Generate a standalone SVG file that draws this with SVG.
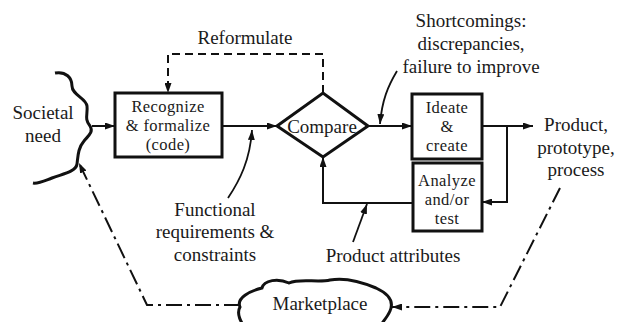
<svg xmlns="http://www.w3.org/2000/svg" width="622" height="322" viewBox="0 0 622 322">
  <defs>
    <marker id="arrow" viewBox="0 0 10 7" refX="10" refY="3.5" markerWidth="10" markerHeight="7" markerUnits="userSpaceOnUse" orient="auto">
      <path d="M0,0 L10,3.5 L0,7 z" fill="#111"/>
    </marker>
    <style>
      text { font-family: "Liberation Serif", "Times New Roman", serif; font-size: 19px; fill: #1a1a1a; text-anchor: middle; }
      text.in { font-size: 16.5px; letter-spacing: 0.4px; }
      .box { fill: none; stroke: #111; stroke-width: 3; }
      .line { fill: none; stroke: #111; stroke-width: 2; }
      .thin { fill: none; stroke: #111; stroke-width: 1.8; }
      .dashed { fill: none; stroke: #111; stroke-width: 2; stroke-dasharray: 8 5; }
      .dashdot { fill: none; stroke: #111; stroke-width: 2; stroke-dasharray: 16 5 3 5; }
    </style>
  </defs>
  <rect width="622" height="322" fill="#fff"/>

  <!-- Societal need: wavy boundary -->
  <g id="societal-need">
    <path d="M55,73 C66,71 72,78 72,86 C72,95 86,98 87,106 C88,114 84,119 90,126 C94,132 88,136 84,141 C78,148 78,156 77,164 C76,172 62,174 52,178 C44,181 38,184 33,183" fill="none" stroke="#111" stroke-width="3"/>
    <text x="43" y="119">Societal</text>
    <text x="43" y="142">need</text>
  </g>

  <!-- Recognize & formalize -->
  <g id="recognize">
    <rect class="box" x="115" y="93" width="107" height="64"/>
    <text class="in" x="168" y="112">Recognize</text>
    <text class="in" x="168" y="131">&amp; formalize</text>
    <text class="in" x="168" y="150">(code)</text>
  </g>

  <!-- Compare decision -->
  <g id="compare">
    <path class="box" d="M277,126 L323,93 L368,126 L323,157 Z"/>
    <text x="322" y="133">Compare</text>
  </g>

  <!-- Ideate & create -->
  <g id="ideate">
    <rect class="box" x="412" y="94" width="70" height="65"/>
    <text class="in" x="447" y="113">Ideate</text>
    <text class="in" x="447" y="132">&amp;</text>
    <text class="in" x="447" y="151">create</text>
  </g>

  <!-- Analyze and/or test -->
  <g id="analyze">
    <rect class="box" x="413" y="163" width="69" height="68"/>
    <text class="in" x="447" y="186" letter-spacing="0">Analyze</text>
    <text class="in" x="447" y="205">and/or</text>
    <text class="in" x="447" y="224">test</text>
  </g>

  <!-- Product output -->
  <g id="product">
    <text x="576" y="131">Product,</text>
    <text x="576" y="154">prototype,</text>
    <text x="576" y="176">process</text>
  </g>

  <!-- Marketplace cloud -->
  <g id="marketplace">
    <path d="M240,307 C236,298 250,291 262,288 C264,280 278,278 289,283 C300,278 318,283 330,280 C346,277 362,282 376,288 C389,294 394,302 390,311 C387,318 382,322 378,330 L246,330 C241,322 236,314 240,307 Z" fill="#fff" stroke="#111" stroke-width="3"/>
    <text x="320" y="310">Marketplace</text>
  </g>

  <!-- Annotations -->
  <g id="labels">
    <text x="245" y="44">Reformulate</text>
    <text x="471" y="27">Shortcomings:</text>
    <text x="471" y="50">discrepancies,</text>
    <text x="471" y="73">failure to improve</text>
    <text x="215" y="216">Functional</text>
    <text x="215" y="238">requirements &amp;</text>
    <text x="215" y="261">constraints</text>
    <text x="393" y="262">Product attributes</text>
  </g>

  <!-- Connectors -->
  <g id="connectors">
    <path class="line" d="M92,126 L115,126" marker-end="url(#arrow)"/>
    <path class="line" d="M222,126 L277,126" marker-end="url(#arrow)"/>
    <path class="line" d="M368,126 L412,126" marker-end="url(#arrow)"/>
    <path class="line" d="M482,126 L533,126" marker-end="url(#arrow)"/>
    <path class="line" d="M507,126 L507,202 L482,202" marker-end="url(#arrow)"/>
    <path class="line" d="M413,203 L323,203 L323,157" marker-end="url(#arrow)"/>
    <path class="dashed" d="M323,93 L323,54 L168,54 L168,93" marker-end="url(#arrow)"/>
    <path class="dashdot" d="M560,188 L500,307 L392,307" marker-end="url(#arrow)"/>
    <path class="dashdot" d="M240,305 L147,305 L79,163" marker-end="url(#arrow)"/>
    <path class="thin" d="M228,198 C240,180 250,160 252,130" marker-end="url(#arrow)"/>
    <path class="thin" d="M397,71 C388,86 382,100 380,124" marker-end="url(#arrow)"/>
    <path class="thin" d="M353,242 L367,204" marker-end="url(#arrow)"/>
  </g>
</svg>
